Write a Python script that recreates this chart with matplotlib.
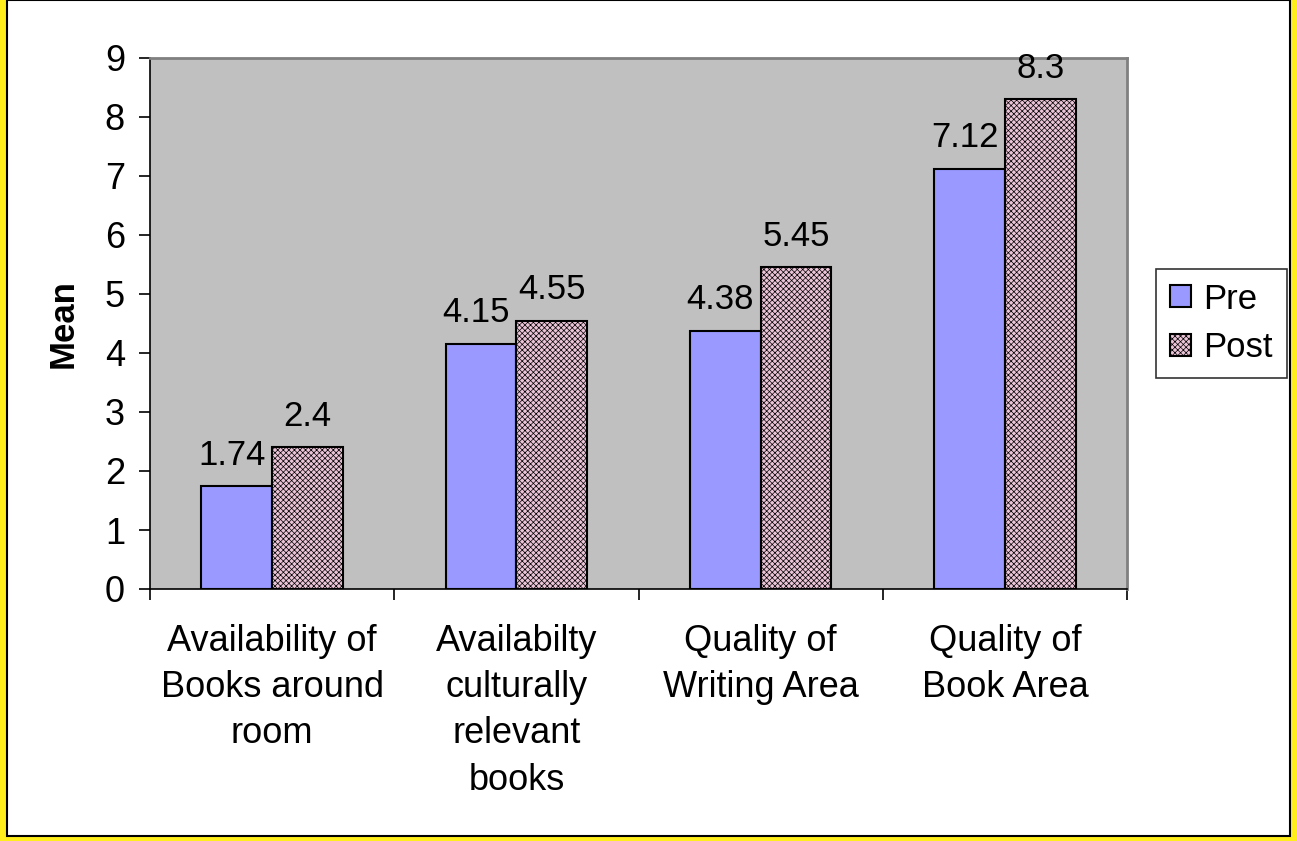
import matplotlib.pyplot as plt
import matplotlib.patches as patches
import numpy as np

plt.rcParams['font.family'] = ['Liberation Sans', 'DejaVu Sans']
plt.rcParams['hatch.color'] = '#a8487a'
plt.rcParams['hatch.linewidth'] = 0.5

categories = ["Availability of\nBooks around\nroom", "Availabilty\nculturally\nrelevant\nbooks",
              "Quality of\nWriting Area", "Quality of\nBook Area"]
pre = [1.74, 4.15, 4.38, 7.12]
post = [2.4, 4.55, 5.45, 8.3]
pre_labels = ["1.74", "4.15", "4.38", "7.12"]
post_labels = ["2.4", "4.55", "5.45", "8.3"]

fig = plt.figure(figsize=[12.97, 8.41], dpi=100)
W, H = 1297, 841

# yellow frame with black inner border
fig.patches.append(patches.Rectangle((0, 0), 1, 1, transform=fig.transFigure,
                                     facecolor='#ffee1c', edgecolor='none', zorder=-2))
fig.patches.append(patches.Rectangle((7/W, 5/H), (1290-7)/W, (841-5)/H, transform=fig.transFigure,
                                     facecolor='white', edgecolor='black', linewidth=1.5, zorder=-1))

ax = fig.add_axes([150/W, 1-589/H, (1127-150)/W, (589-58)/H])
ax.set_facecolor('#c0c0c0')

x = np.arange(len(categories))
w = 0.29
ax.bar(x - w/2, pre, w, color='#9999ff', edgecolor='black', linewidth=1.5, zorder=2, label='Pre')
ax.bar(x + w/2, post, w, color='#ecc4d8', edgecolor='black', linewidth=1.5, zorder=2,
       hatch='xxxxxx', label='Post')

for i in range(len(categories)):
    ax.text(x[i] - w/2 - 0.02, pre[i] + 0.25, pre_labels[i], ha='center', va='bottom', fontsize=25)
    ax.text(x[i] + w/2, post[i] + 0.25, post_labels[i], ha='center', va='bottom', fontsize=25)

ax.set_xlim(-0.5, 3.5)
ax.set_ylim(0, 9)
ax.set_yticks(range(10))
ax.tick_params(axis='y', labelsize=26, length=8, width=1.2, direction='out', pad=10)
ax.set_xticks(np.arange(-0.5, 4, 1))
ax.set_xticklabels([])
ax.tick_params(axis='x', length=8, width=1.2, direction='out')
ax.set_xticks(x, minor=True)
ax.set_xticklabels(categories, minor=True, fontsize=26, linespacing=1.42)
ax.tick_params(axis='x', which='minor', length=0, pad=25)

ax.spines['left'].set_linewidth(1.2)
ax.spines['bottom'].set_linewidth(1.2)
ax.spines['top'].set_color('#808080')
ax.spines['right'].set_color('#808080')
ax.spines['top'].set_linewidth(2)
ax.spines['right'].set_linewidth(2)

ax.set_ylabel('Mean', fontsize=25, fontweight='bold', labelpad=18)

leg = ax.legend(loc='center left', bbox_to_anchor=(1.03, 0.5), fontsize=25, frameon=True,
                fancybox=False, edgecolor='black', handlelength=0.6, handleheight=0.6,
                handletextpad=0.35, borderpad=0.4, labelspacing=0.45, borderaxespad=0)
leg.get_frame().set_linewidth(1.2)

plt.savefig('out.png', dpi=100)
